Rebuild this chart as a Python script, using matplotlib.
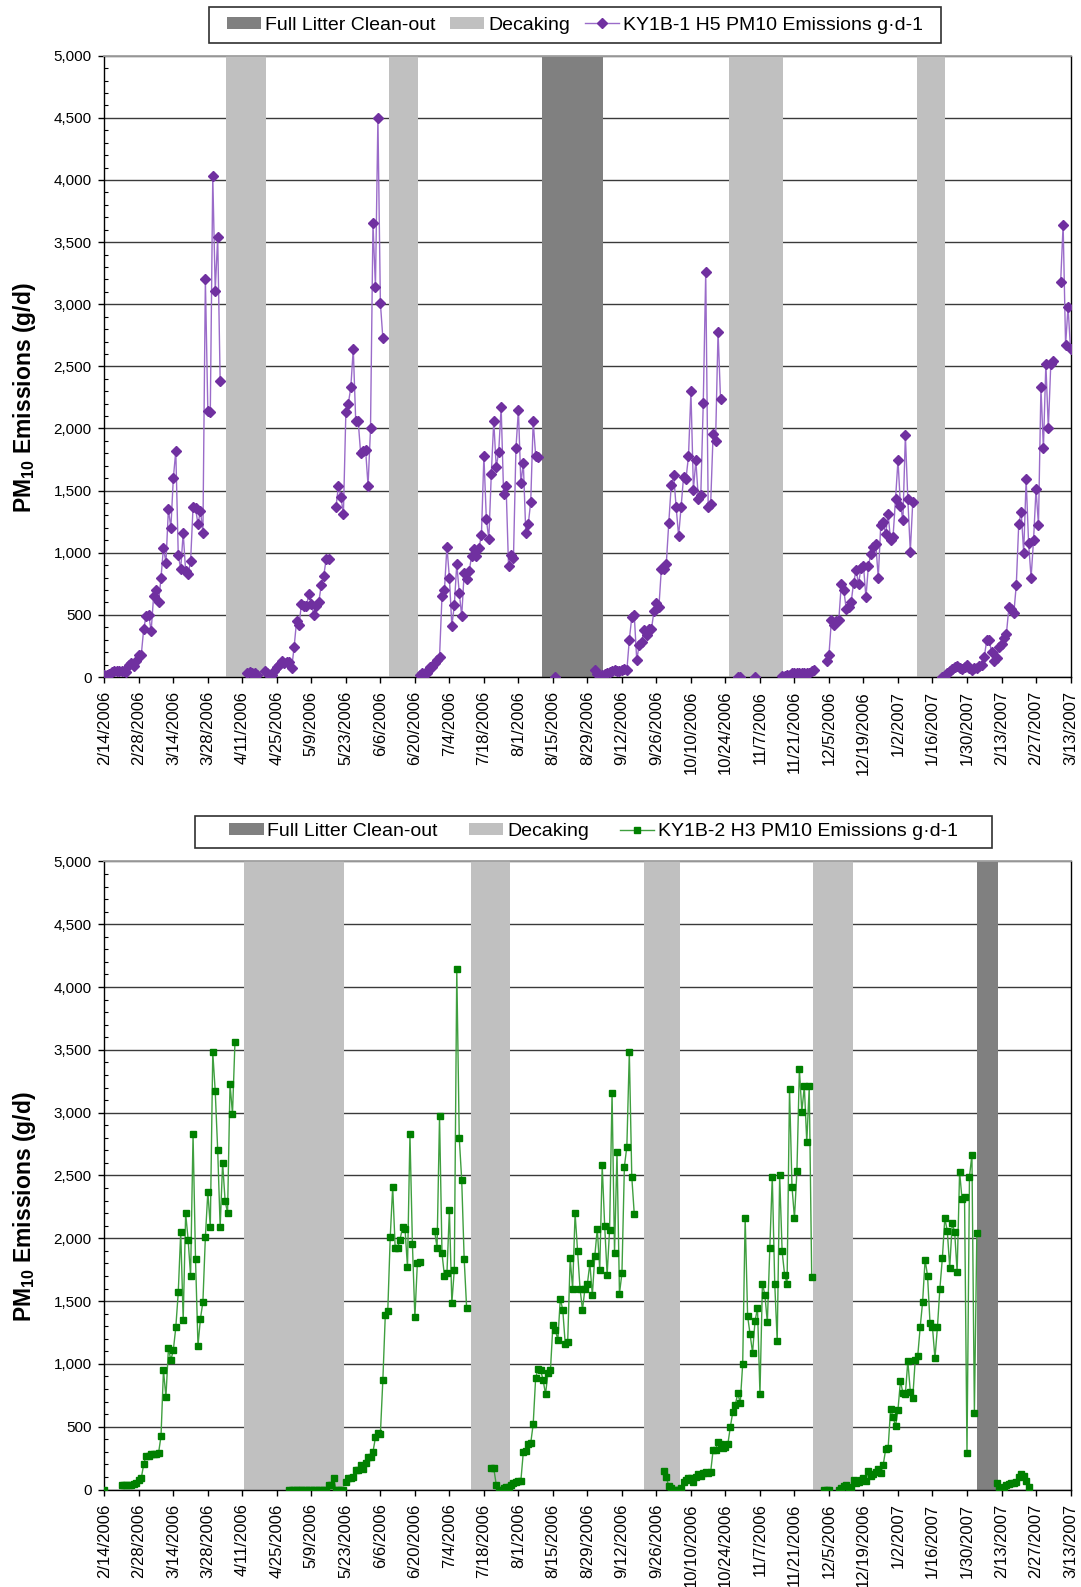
import numpy as np
import matplotlib
matplotlib.use('Agg')
import matplotlib.pyplot as plt
import matplotlib.dates as mdates
from matplotlib.patches import Patch, Rectangle
from matplotlib.lines import Line2D
from matplotlib.ticker import FuncFormatter, MultipleLocator
from datetime import datetime

plt.rcParams['font.family'] = 'Liberation Sans'
plt.rcParams['mathtext.fontset'] = 'custom'
plt.rcParams['mathtext.rm'] = 'Liberation Sans'
plt.rcParams['mathtext.bf'] = 'Liberation Sans:bold'

# x axis: days counted from 2/14/2006, ticks every 14 days up to 3/13/2007
START = mdates.date2num(datetime(2006, 2, 14))
N_DAYS = 392

# --- KY1B-1 H5 (top) : start day of each run of daily values, and the values
h5_starts = [0, 58, 65, 94, 128, 183, 199, 257, 264, 275, 293, 340, 388]
h5_runs = [
    [15, 20, 25, 40, 50, 45, 45, 45, 45, 40, 100, 110, 90, 130, 175, 180, 390, 495,
     500, 370, 650, 700, 600, 800, 1040, 920, 1350, 1200, 1600, 1820, 980, 870, 1160,
     850, 830, 930, 1370, 1360, 1230, 1340, 1160, 3200, 2140, 2130, 4030, 3110, 3540, 2380],
    [30, 40, 35, 30, 20],
    [50, 30, 20, 20, 50, 80, 100, 130, 110, 120, 120, 70, 240, 450, 420, 590, 570, 570,
     670, 590, 500, 570, 600, 740, 810, 950, 950],
    [1370, 1540, 1450, 1310, 2130, 2200, 2330, 2640, 2060, 2060, 1800, 1820, 1830, 1540,
     2000, 3650, 3140, 4500, 3010, 2730],
    [20, 30, 30, 30, 80, 80, 110, 140, 160, 650, 700, 1050, 800, 410, 580, 910, 680, 490,
     840, 790, 850, 970, 1030, 970, 1040, 1140, 1780, 1270, 1110, 1630, 2060, 1690, 1810,
     2170, 1470, 1540, 890, 980, 960, 1840, 2150, 1560, 1720, 1160, 1230, 1410, 2060, 1780, 1770],
    [0],
    [60, 27, 0, 13, 21, 32, 40, 48, 54, 46, 48, 59, 64, 54, 300, 482, 501, 139, 254, 281,
     380, 342, 388, 388, 530, 597, 563, 871, 871, 911, 1238, 1542, 1622, 1367, 1134, 1367,
     1609, 1596, 1775, 2298, 1509, 1743, 1435, 1462, 2204, 3257, 1367, 1394, 1957, 1896,
     2780, 2239],
    [0, 0],
    [0],
    [5, 10, 15, 20, 30, 30, 30, 30, 30, 30, 30, 35, 45, 55],
    [130, 180, 460, 420, 450, 460, 750, 700, 550, 560, 600, 760, 860, 750, 880, 895, 640,
     895, 990, 1050, 1070, 800, 1220, 1245, 1150, 1310, 1100, 1130, 1430, 1745, 1380, 1265,
     1945, 1430, 1010, 1410],
    [0, 10, 30, 45, 65, 80, 85, 75, 65, 80, 95, 75, 55, 70, 75, 85, 95, 160, 295, 295, 200,
     130, 150, 240, 265, 310, 350, 560, 550, 515, 740, 1235, 1325, 1000, 1590, 1075, 800,
     1100, 1510, 1225, 2330, 1840, 2520, 2000, 2520, 2540],
    [3180, 3640, 2670, 2980, 2640],
]
h5_dec_start = [49.4, 115.7, 253.6, 329.6]
h5_dec_end = [65.7, 127.3, 275.4, 341.1]
h5_clean_start = [177.6]
h5_clean_end = [202.5]

# --- KY1B-2 H3 (bottom)
h3_starts = [0, 7, 75, 98, 134, 157, 227, 292, 298, 362]
h3_runs = [
    [0],
    [40, 40, 40, 40, 40, 45, 55, 75, 90, 205, 270, 270, 280, 280, 285, 290, 425, 950, 735,
     1125, 1030, 1110, 1290, 1570, 2050, 1350, 2200, 1990, 1700, 2830, 1835, 1145, 1360,
     1495, 2010, 2370, 2090, 3480, 3170, 2700, 2090, 2600, 2300, 2200, 3230, 2990, 3560],
    [0, 0, 0, 0, 0, 0, 0, 0, 0, 0, 0, 0, 0, 0, 0, 0, 40, 40, 90, 0, 0, 0, 0],
    [60, 90, 90, 100, 155, 155, 195, 160, 215, 260, 260, 300, 415, 450, 440, 870, 1390,
     1420, 2010, 2410, 1925, 1925, 1990, 2090, 2075, 1770, 2830, 1955, 1370, 1800, 1810],
    [2060, 1925, 2970, 1880, 1700, 1720, 2225, 1485, 1750, 4140, 2800, 2465, 1835, 1445],
    [170, 170, 40, 0, 0, 10, 20, 20, 35, 50, 60, 70, 70, 300, 310, 360, 370, 520, 890, 960,
     950, 875, 760, 925, 950, 1310, 1270, 1190, 1520, 1430, 1160, 1175, 1840, 1600, 2200,
     1900, 1600, 1430, 1600, 1640, 1800, 1545, 1860, 2075, 1750, 2580, 2100, 1710, 2070,
     3160, 1880, 2690, 1560, 1720, 2570, 2730, 3480, 2490, 2195],
    [150, 100, 25, 10, 0, 0, 0, 15, 60, 75, 90, 95, 60, 100, 120, 105, 130, 140, 135, 140,
     315, 315, 380, 365, 330, 340, 365, 500, 620, 675, 765, 690, 1000, 2165, 1380, 1235,
     1090, 1340, 1445, 760, 1640, 1550, 1330, 1920, 2490, 1640, 1180, 2500, 1895, 1710,
     1640, 3190, 2410, 2160, 2537, 3345, 3008, 3212, 2765, 3212, 1690],
    [0, 0, 0],
    [0, 10, 25, 40, 10, 20, 75, 50, 60, 80, 95, 70, 150, 105, 120, 140, 160, 135, 195, 320,
     330, 640, 580, 505, 635, 865, 770, 760, 1025, 780, 730, 1035, 1060, 1290, 1495, 1830,
     1700, 1325, 1290, 1045, 1290, 1600, 1840, 2160, 2060, 1765, 2120, 2050, 1730, 2530,
     2310, 2330, 290, 2490, 2665, 610, 2040],
    [50, 15, 0, 20, 35, 45, 50, 55, 60, 100, 120, 105, 70, 20],
]
h3_dec_start = [56.7, 148.7, 219.0, 287.7]
h3_dec_end = [97.4, 164.7, 233.5, 303.9]
h3_clean_start = [354.0]
h3_clean_end = [362.7]

DECAK = '#c0c0c0'
CLEAN = '#808080'
W, H = 1081, 1587


def date_label(v, pos):
    d = mdates.num2date(v)
    return f'{d.month}/{d.day}/{d.year}'


def draw_panel(ax, starts, runs, dec_s, dec_e, cl_s, cl_e, lcol, mcol, marker, ms):
    ax.set_xlim(START, START + N_DAYS)
    ax.set_ylim(0, 5000)
    ax.yaxis.set_major_locator(MultipleLocator(500))
    ax.yaxis.set_minor_locator(MultipleLocator(100))
    ax.yaxis.set_major_formatter(FuncFormatter(lambda v, p: f'{v:,.0f}'))
    ax.set_xticks(START + np.arange(0, N_DAYS + 1, 14))
    ax.xaxis.set_major_formatter(FuncFormatter(date_label))
    ax.grid(axis='y', which='major', color='#3a3a3a', lw=1.0)
    ax.set_axisbelow(True)

    for a, b in zip(dec_s, dec_e):
        ax.axvspan(START + a, START + b, color=DECAK, lw=0, zorder=1)
    for a, b in zip(cl_s, cl_e):
        ax.axvspan(START + a, START + b, color=CLEAN, lw=0, zorder=1)

    for s, r in zip(starts, runs):
        x = START + np.arange(s, s + len(r))
        ax.plot(x, r, color=lcol, lw=1.0, marker=marker, ms=ms,
                mfc=mcol, mec=mcol, zorder=3)

    ax.tick_params(axis='y', which='major', direction='out', length=4, width=1,
                   labelsize=11, pad=5)
    ax.tick_params(axis='y', which='minor', direction='in', length=3, width=0.8)
    ax.tick_params(axis='x', direction='out', length=4, width=1, labelsize=12,
                   pad=6, rotation=90)
    for side in ['left', 'bottom', 'right']:
        ax.spines[side].set_color('black')
        ax.spines[side].set_linewidth(1.0)
    ax.spines['top'].set_color('#a0a0a0')
    ax.spines['top'].set_linewidth(1.3)
    ax.spines['top'].set_zorder(4)

    ax.set_ylabel(r'PM$_{\mathbf{10}}$ Emissions (g/d)', fontsize=16.5, fontweight='bold')
    ax.yaxis.set_label_coords(-0.069, 0.45)


fig = plt.figure(figsize=(10.81, 15.87), dpi=100)
ax1 = fig.add_axes([0.0965, 0.5734, 0.8938, 0.3915])
ax2 = fig.add_axes([0.0965, 0.0614, 0.8938, 0.3958])

draw_panel(ax1, h5_starts, h5_runs, h5_dec_start, h5_dec_end, h5_clean_start, h5_clean_end,
           '#9a6bc9', '#7030a0', 'D', 4.8)
draw_panel(ax2, h3_starts, h3_runs, h3_dec_start, h3_dec_end, h3_clean_start, h3_clean_end,
           '#3f9f3f', '#008000', 's', 4.2)


# Legends: entries without frame, box drawn as a plain rectangle (pixel box)
def make_legend(label, lcol, mcol, marker, ms, box, colsp):
    x0, y0, x1, y1 = box
    handles = [Patch(facecolor=CLEAN, edgecolor='none'),
               Patch(facecolor=DECAK, edgecolor='none'),
               Line2D([], [], color=lcol, lw=1.0, marker=marker, ms=ms, mfc=mcol, mec=mcol)]
    labels = ['Full Litter Clean-out', 'Decaking', label]
    cx = (x0 + x1) / 2 / W
    cy = 1 - (y0 + y1) / 2 / H
    fig.legend(handles, labels, loc='center', bbox_to_anchor=(cx, cy), ncol=3,
               frameon=False, fontsize=14, handlelength=1.75, handleheight=0.55,
               handletextpad=0.2, columnspacing=colsp, borderpad=0.0)
    fig.add_artist(Rectangle((x0 / W, 1 - y1 / H), (x1 - x0) / W, (y1 - y0) / H,
                             transform=fig.transFigure, fill=False,
                             edgecolor='#303030', lw=1.2))

make_legend('KY1B-1 H5 PM10 Emissions g\u00b7d-1', '#9a6bc9', '#7030a0', 'D', 4.8,
            (208.5, 7.3, 941.4, 43.0), 0.75)
make_legend('KY1B-2 H3 PM10 Emissions g\u00b7d-1', '#3f9f3f', '#008000', 's', 4.2,
            (195.3, 815.7, 992.0, 847.7), 1.6)

fig.savefig('out.png', dpi=100, facecolor='white')
print("Saved: out.png")
